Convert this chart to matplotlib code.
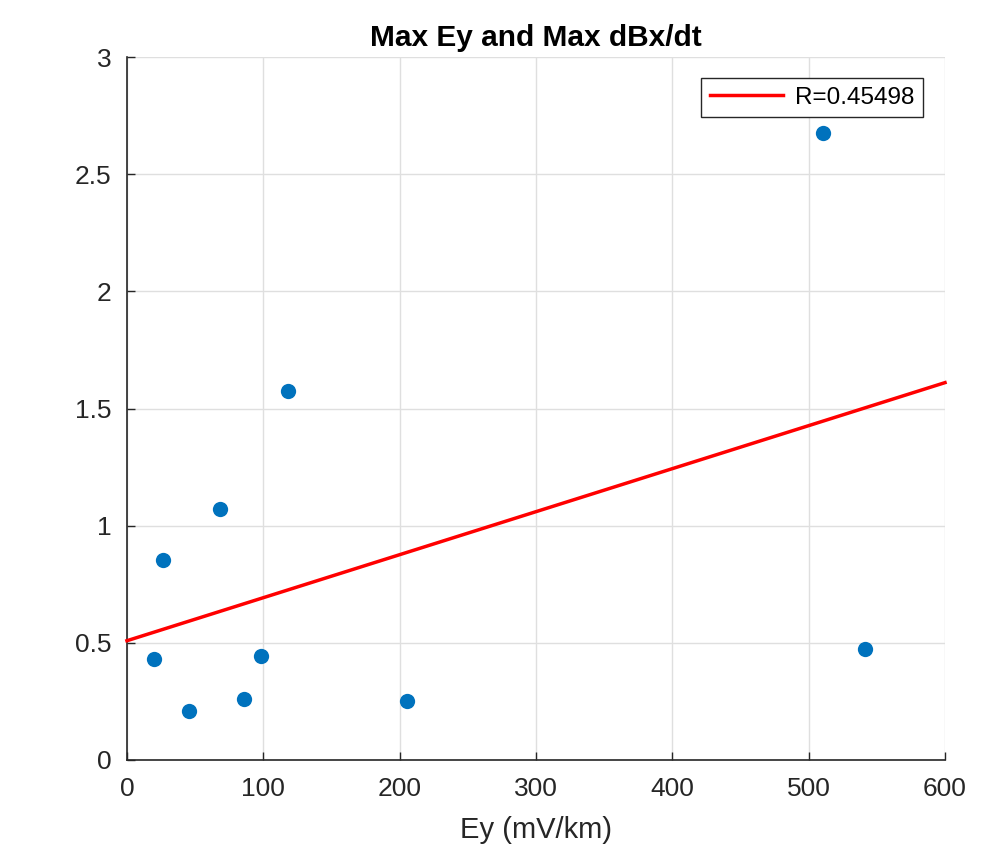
import numpy as np
import matplotlib
matplotlib.use("Agg")
import matplotlib.pyplot as plt

plt.rcParams['font.family'] = ['Liberation Sans', 'DejaVu Sans']

ey = [19.8, 26.4, 45.5, 68.2, 85.8, 98.3, 118.1, 205.4, 510.5, 541.3]
dbx = [0.431, 0.854, 0.209, 1.071, 0.260, 0.444, 1.575, 0.252, 2.676, 0.474]
r_label = "R=0.45498"

fig = plt.figure(figsize=(9.88, 8.6), dpi=100)
ax = fig.add_axes([0.1285, 0.1163, 0.828, 0.8174])

x = np.array(ey)
y = np.array(dbx)
slope, intercept = np.polyfit(x, y, 1)
xl = np.array([0, 600])

ax.plot(x, y, 'o', color='#0072BD', markersize=11, markeredgewidth=0, zorder=3)
ax.plot(xl, slope * xl + intercept, color='#FF0000', lw=2.5, label=r_label, zorder=4, clip_on=False)

ax.set_xlim(0, 600)
ax.set_ylim(0, 3)
ax.set_xticks([0, 100, 200, 300, 400, 500, 600])
ax.set_yticks([0, 0.5, 1, 1.5, 2, 2.5, 3])
ax.set_yticklabels(['0', '0.5', '1', '1.5', '2', '2.5', '3'])
ax.grid(True, color='#DFDFDF', lw=1)
ax.set_axisbelow(True)
for s in ['top', 'right']:
    ax.spines[s].set_visible(False)
for s in ['left', 'bottom']:
    ax.spines[s].set_color('#262626')
    ax.spines[s].set_linewidth(1.2)
ax.tick_params(direction='in', length=6, width=1, colors='#262626', labelsize=19)
ax.tick_params(axis='x', pad=12)
ax.tick_params(axis='y', pad=11)
ax.set_xlabel('Ey (mV/km)', fontsize=21, color='#262626', labelpad=11)
ax.set_title('Max Ey and Max dBx/dt', fontsize=21.5, fontweight='bold', pad=8)

leg = ax.legend(loc='upper right', bbox_to_anchor=(0.973, 0.97), fontsize=17.5, frameon=True,
                fancybox=False, edgecolor='#262626', framealpha=1, handlelength=3.0,
                borderpad=0.35, handletextpad=0.5, borderaxespad=0)
leg.get_frame().set_linewidth(1)

fig.savefig('out.png', dpi=100)
